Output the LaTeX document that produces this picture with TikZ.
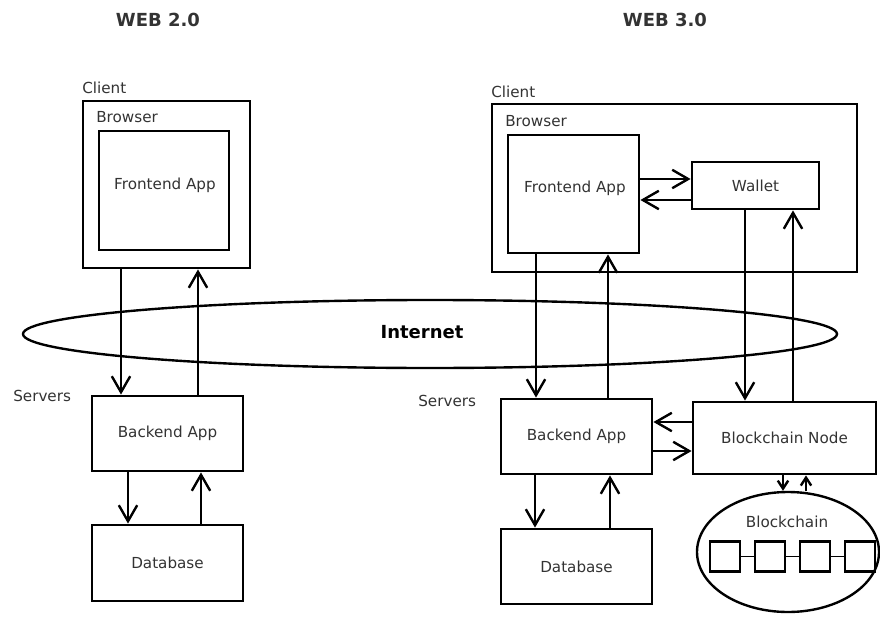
\documentclass[tikz,border=0pt]{standalone}
\usepackage{fontspec}
\setmainfont{DejaVu Sans}
\usetikzlibrary{arrows.meta,shapes.geometric}
\tikzset{
  box/.style={draw,line width=2pt,minimum width=#1,inner sep=0pt},
  lbl/.style={anchor=west,inner sep=0pt,text=black!80},
  title/.style={inner sep=0pt,font=\fontsize{12.8}{14}\selectfont\bfseries},
  arr/.style={line width=1.7pt,-{Straight Barb[length=4mm,width=4.6mm]}},
  sarr/.style={line width=1.7pt,-{Straight Barb[length=2mm,width=2.6mm]}}
}
\begin{document}
\begin{tikzpicture}[x=0.025cm,y=-0.025cm,font=\fontsize{10.8}{12}\selectfont,text=black!80]
\useasboundingbox (0,0) rectangle (880,617);

\node (web2) [title] at (158,20) {WEB 2.0};
\node (web3) [title] at (665,20) {WEB 3.0};

% web 2.0
\node (client1) [box=167*0.025cm,minimum height=167*0.025cm] at (166.5,184.5) {};
\node [lbl] at (82,88) {Client};
\node [lbl] at (96,117) {Browser};
\node (fe1) [box=130*0.025cm,minimum height=119*0.025cm] at (164,190.5) {};
\node at (165,185) {Frontend App};
\node [lbl] at (13,396) {Servers};
\node (back1) [box=151*0.025cm,minimum height=75*0.025cm] at (167.5,433.5) {Backend App};
\node (db1) [box=151*0.025cm,minimum height=76*0.025cm] at (167.5,563) {Database};

% internet
\node (net) [draw,ellipse,line width=1.7pt,minimum width=814*0.025cm,minimum height=68*0.025cm,
  inner sep=0pt] at (430,334) {};
\node [font=\fontsize{12.8}{14}\selectfont\bfseries,text=black] at (422,332) {Internet};

% web 3.0
\node (client2) [box=365*0.025cm,minimum height=168*0.025cm] at (674.5,188) {};
\node [lbl] at (491,92) {Client};
\node [lbl] at (505,121) {Browser};
\node (fe2) [box=131*0.025cm,minimum height=118*0.025cm] at (573.5,194) {};
\node at (575,188) {Frontend App};
\node (wallet) [box=127*0.025cm,minimum height=47*0.025cm] at (755.5,185.5) {Wallet};
\node [lbl] at (418,401) {Servers};
\node (back2) [box=151*0.025cm,minimum height=75*0.025cm] at (576.5,436.5) {Backend App};
\node (bcnode) [box=183*0.025cm,minimum height=72*0.025cm] at (784.5,438) {Blockchain Node};
\node (db2) [box=151*0.025cm,minimum height=75*0.025cm] at (576.5,566.5) {Database};
\node (chain) [draw,ellipse,line width=1.7pt,minimum width=182*0.025cm,minimum height=120*0.025cm,
  inner sep=0pt] at (788,552) {};
\node at (787,522) {Blockchain};
\foreach \i/\x in {1/725,2/770,3/815,4/860}
  \node (blk\i) [box=30*0.025cm,minimum height=30*0.025cm] at (\x,556.5) {};
\foreach \i/\j in {1/2,2/3,3/4}
  \draw [line width=1.4pt] (blk\i) -- (blk\j);

% arrows web 2.0
\draw [arr] (client1.south -| 121,0) -- (back1.north -| 121,0);
\draw [arr] (back1.north -| 198,0) -- (client1.south -| 198,0);
\draw [arr] (back1.south -| 128,0) -- (db1.north -| 128,0);
\draw [arr] (db1.north -| 201,0) -- (back1.south -| 201,0);

% arrows web 3.0
\draw [arr] (fe2.east |- 0,179) -- (wallet.west |- 0,179);
\draw [arr] (wallet.west |- 0,200) -- (fe2.east |- 0,200);
\draw [arr] (fe2.south -| 536,0) -- (back2.north -| 536,0);
\draw [arr] (back2.north -| 608,0) -- (fe2.south -| 608,0);
\draw [arr] (wallet.south -| 745,0) -- (bcnode.north -| 745,0);
\draw [arr] (bcnode.north -| 793,0) -- (wallet.south -| 793,0);
\draw [arr] (bcnode.west |- 0,422) -- (back2.east |- 0,422);
\draw [arr] (back2.east |- 0,451) -- (bcnode.west |- 0,451);
\draw [arr] (back2.south -| 535,0) -- (db2.north -| 535,0);
\draw [arr] (db2.north -| 610,0) -- (back2.south -| 610,0);
\draw [sarr] (bcnode.south -| 783,0) -- (chain.north -| 783,0);
\draw [sarr] (chain.north -| 806,0) -- (bcnode.south -| 806,0);
\end{tikzpicture}
\end{document}
